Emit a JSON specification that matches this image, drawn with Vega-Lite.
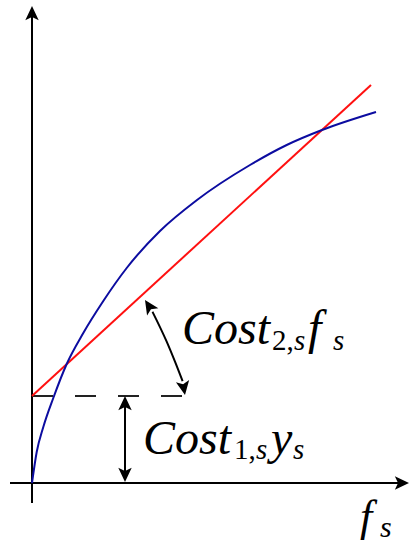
{
  "$schema": "https://vega.github.io/schema/vega-lite/v6.json",
  "width": 409,
  "height": 542,
  "autosize": {"type": "none"},
  "padding": 0,
  "background": "white",
  "config": {"view": {"stroke": null}},
  "datasets": {
    "axes": [
      {"x": -22, "y": 0, "x2": 370, "y2": 0},
      {"x": 0, "y": -20, "x2": 0, "y2": 469}
    ],
    "fixedCost": [{"x": 0, "y": 87, "x2": 153, "y2": 87}],
    "fixedCostArrow": [{"x": 93, "y": 8, "x2": 93, "y2": 80}],
    "linearCost": [
      {"x": 0, "y": 87},
      {"x": 339, "y": 398}
    ],
    "benefit": [
      {"x": 0, "y": 0},
      {"x": 4.7, "y": 31},
      {"x": 11.3, "y": 56},
      {"x": 21.3, "y": 85},
      {"x": 34.7, "y": 119},
      {"x": 51.3, "y": 150},
      {"x": 71.3, "y": 182},
      {"x": 94.7, "y": 215},
      {"x": 128, "y": 252},
      {"x": 165, "y": 283},
      {"x": 218, "y": 318},
      {"x": 254.7, "y": 338},
      {"x": 290, "y": 353},
      {"x": 344, "y": 371}
    ],
    "slopeArc": [
      {"x": 120.5, "y": 171.2},
      {"x": 134.7, "y": 141.3},
      {"x": 143, "y": 121.3},
      {"x": 150.6, "y": 101.8}
    ],
    "arrowHeads": [
      {"x": 0, "y": 477, "angle": 0},
      {"x": 377, "y": 0, "angle": 90},
      {"x": 93, "y": 87, "angle": 0},
      {"x": 93, "y": 1, "angle": 180},
      {"x": 113, "y": 183, "angle": 327},
      {"x": 153, "y": 88, "angle": 170}
    ],
    "mathItalic": [
      {"x": 150, "y": 139, "t": "Cost"},
      {"x": 276, "y": 139, "t": "f"},
      {"x": 111, "y": 29, "t": "Cost"},
      {"x": 239, "y": 29, "t": "y"}
    ],
    "subUpright": [
      {"x": 240, "y": 133, "t": "2,"},
      {"x": 202, "y": 24, "t": "1,"}
    ],
    "subItalic": [
      {"x": 262, "y": 133, "t": "s"},
      {"x": 301, "y": 133, "t": "s"},
      {"x": 224, "y": 24, "t": "s"},
      {"x": 261, "y": 24, "t": "s"}
    ],
    "axisTitle": [{"x": 328, "y": -48, "t": "f"}],
    "axisTitleSub": [{"x": 348, "y": -54, "t": "s"}]
  },
  "data": {"name": "axes"},
  "encoding": {
    "x": {"field": "x", "type": "quantitative", "axis": null, "scale": {"domain": [-32, 377], "nice": false, "zero": false}},
    "y": {"field": "y", "type": "quantitative", "axis": null, "scale": {"domain": [-59, 483], "nice": false, "zero": false}}
  },
  "layer": [
    {
      "data": {"name": "axes"},
      "mark": {"type": "rule", "color": "black", "strokeWidth": 2},
      "encoding": {"x2": {"field": "x2"}, "y2": {"field": "y2"}}
    },
    {
      "data": {"name": "fixedCost"},
      "mark": {"type": "rule", "color": "#222", "strokeWidth": 2, "strokeDash": [21, 22]},
      "encoding": {"x2": {"field": "x2"}, "y2": {"field": "y2"}}
    },
    {
      "data": {"name": "fixedCostArrow"},
      "mark": {"type": "rule", "color": "black", "strokeWidth": 2},
      "encoding": {"x2": {"field": "x2"}, "y2": {"field": "y2"}}
    },
    {
      "data": {"name": "linearCost"},
      "mark": {"type": "line", "color": "#ff1010", "strokeWidth": 2}
    },
    {
      "data": {"name": "benefit"},
      "mark": {"type": "line", "color": "#0c0ca0", "strokeWidth": 2, "interpolate": "monotone"}
    },
    {
      "data": {"name": "slopeArc"},
      "mark": {"type": "line", "color": "black", "strokeWidth": 2, "interpolate": "monotone"}
    },
    {
      "data": {"name": "arrowHeads"},
      "mark": {"type": "point", "shape": "M0,0 L0.95,2 L0,1.55 L-0.95,2 Z", "filled": true, "color": "black", "opacity": 1, "size": 200},
      "encoding": {"angle": {"field": "angle", "type": "quantitative", "scale": null}}
    },
    {
      "data": {"name": "mathItalic"},
      "mark": {"type": "text", "align": "left", "baseline": "alphabetic", "font": "Liberation Serif", "fontStyle": "italic", "fontSize": 48, "color": "black"},
      "encoding": {"text": {"field": "t"}}
    },
    {
      "data": {"name": "subUpright"},
      "mark": {"type": "text", "align": "left", "baseline": "alphabetic", "font": "Liberation Serif", "fontSize": 29, "color": "black"},
      "encoding": {"text": {"field": "t"}}
    },
    {
      "data": {"name": "subItalic"},
      "mark": {"type": "text", "align": "left", "baseline": "alphabetic", "font": "Liberation Serif", "fontStyle": "italic", "fontSize": 29, "color": "black"},
      "encoding": {"text": {"field": "t"}}
    },
    {
      "data": {"name": "axisTitle"},
      "mark": {"type": "text", "align": "left", "baseline": "alphabetic", "font": "Liberation Serif", "fontStyle": "italic", "fontSize": 44, "color": "black"},
      "encoding": {"text": {"field": "t"}}
    },
    {
      "data": {"name": "axisTitleSub"},
      "mark": {"type": "text", "align": "left", "baseline": "alphabetic", "font": "Liberation Serif", "fontStyle": "italic", "fontSize": 30, "color": "black"},
      "encoding": {"text": {"field": "t"}}
    }
  ]
}
